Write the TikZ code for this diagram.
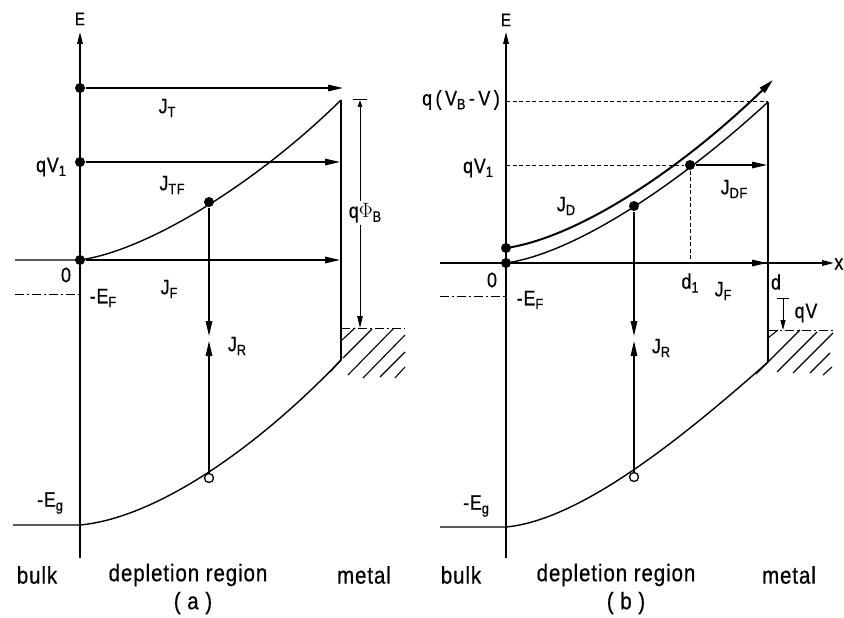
\documentclass[tikz,border=0pt]{standalone}
\usepackage{fontspec}
\setmainfont{Liberation Sans}[FakeStretch=0.85,LetterSpace=4,FakeBold=0.6]
\usetikzlibrary{arrows.meta}
\newcommand\sbs[1]{\raisebox{-0.35ex}{\fontsize{15}{15}\selectfont #1}}
\begin{document}
\begin{tikzpicture}[x=1pt,y=-1pt,line width=1.4pt,
  arr/.style={-{Triangle[length=15pt,width=6.5pt]}},
  axarr/.style={-{Triangle[length=12pt,width=5.5pt]}},
  dot/.style={circle,fill=black,inner sep=0pt,minimum size=10pt},
  hole/.style={circle,draw,fill=white,inner sep=0pt,minimum size=9pt,line width=1.3pt},
  lbl/.style={font=\fontsize{21}{24}\selectfont,inner sep=0pt},
  small/.style={font=\fontsize{18}{20}\selectfont,inner sep=0pt},
  big/.style={font=\fontsize{24}{28}\selectfont,inner sep=0pt},
  dd/.style={dash pattern=on 9pt off 3pt on 2pt off 3pt,line width=1pt},
  dsh/.style={dash pattern=on 4pt off 2.5pt,line width=0.9pt},
  hatch/.style={line width=1.1pt},
  dim/.style={line width=1pt}]
\useasboundingbox (0,0) rectangle (844,618);

% ================= panel (a) =================
\coordinate (aAxB) at (80,558);
\coordinate (aAxT) at (80,32);
\draw[axarr] (aAxB) -- (aAxT);
\node[small] (aE) at (80,19) {E};

% conduction band
\coordinate (aCL) at (15,260);
\coordinate (aC0) at (80,260);
\coordinate (aCM) at (341,100);
\draw (aCL) -- (aC0) .. controls (150,250) and (260,180) .. (aCM);
% valence band
\coordinate (aVL) at (13,525);
\coordinate (aV0) at (80,525);
\coordinate (aVM) at (341,360);
\draw (aVL) -- (aV0) .. controls (155,518) and (255,450) .. (aVM);
% metal boundary
\draw (aCM) -- (aVM);

% Fermi levels
\coordinate (aFL) at (15,294);
\coordinate (aFR) at (80,294);
\draw[dd] (aFL) -- (aFR);
\coordinate (aFmL) at (341,328);
\coordinate (aFmR) at (405,328);
\draw[dd] (aFmL) -- (aFmR);

% hatching (a)
\draw[hatch] (355,328) -- (342,340);
\draw[hatch] (372,329) -- (343,358);
\draw[hatch] (393,329) -- (348,375);
\draw[hatch] (405,335) -- (363,378);
\draw[hatch] (405,352) -- (380,377);
\draw[hatch] (405,367) -- (395,378);
\draw (aVM) -- (330,372);

% horizontal current arrows
\node[dot] (aT0) at (80,88) {};
\coordinate (aT1) at (343,88);
\draw[arr] (aT0) -- (aT1);
\node[dot] (aV1) at (80,162) {};
\coordinate (aV1e) at (340,162);
\draw[arr] (aV1) -- (aV1e);
\node[dot] (aF0) at (80,260) {};
\coordinate (aF1) at (340,260);
\draw[arr] (aF0) -- (aF1);

% recombination
\node[dot] (aR1) at (209,202) {};
\node[hole] (aR2) at (209,478) {};
\coordinate (aRm1) at (209,336);
\coordinate (aRm2) at (209,341);
\draw[arr] (aR1) -- (aRm1);
\draw[arr] (aR2) -- (aRm2);

% q Phi_B dimension
\coordinate (aPhT) at (360,100);
\coordinate (aPhB) at (360,328);
\draw[dim,{Triangle[length=7pt,width=4.5pt]}-{Triangle[length=12pt,width=5.5pt]}] (aPhT) -- (aPhB);
\draw[dim] (353,100) -- (367,100);
\node[lbl,fill=white,inner ysep=3pt] (aPhi) at (365,213) {q$\Phi$\sbs{B}};

% labels (a)
\node[lbl] (aJT) at (167,108) {J\sbs{T}};
\node[lbl] (aqV) at (51,167) {qV\sbs{1}};
\node[lbl] (aJTF) at (172,185) {J\sbs{TF}};
\node[lbl] (a0) at (66,275) {0};
\node[lbl] (aEF) at (103,298) {-E\sbs{F}};
\node[lbl] (aJF) at (169,289) {J\sbs{F}};
\node[lbl] (aJR) at (237,346) {J\sbs{R}};
\node[lbl] (aEg) at (50,503) {-E\sbs{g}};
\node[big] (abulk) at (37,575) {bulk};
\node[big] (adep) at (188,575) {depletion region};
\node[big] (ametal) at (364,575) {metal};
\node[big] (acap) at (193,603) {( a )};

% ================= panel (b) =================
\coordinate (bAxB) at (506,558);
\coordinate (bAxT) at (506,32);
\draw[axarr] (bAxB) -- (bAxT);
\node[small] (bE) at (506,20) {E};
\coordinate (bXL) at (440,263);
\coordinate (bXR) at (834,263);
\draw[axarr] (bXL) -- (bXR);
\node[lbl,anchor=east] (bx) at (844,264) {x};

% inner band
\coordinate (bC0) at (506,263);
\coordinate (bCM) at (768,102);
\draw (bC0) .. controls (576,253) and (680,183) .. (bCM);
% J_D curve
\coordinate (bD0) at (506,248);
\coordinate (bD1) at (773,80);
\draw[line width=2pt,-{Triangle[length=15pt,width=7pt]}] (bD0) .. controls (576,238) and (678,172) .. (bD1);
% valence band
\coordinate (bVL) at (440,527);
\coordinate (bV0) at (506,527);
\coordinate (bVM) at (768,362);
\draw (bVL) -- (bV0) .. controls (580,520) and (680,440) .. (bVM);
\draw (bCM) -- (bVM);

% dashed levels
\coordinate (bQa) at (506,101);
\coordinate (bQb) at (768,101);
\draw[dsh] (bQa) -- (bQb);
\coordinate (bV1a) at (506,165);
\node[dot] (bd1dot) at (690,165) {};
\draw[dsh] (bV1a) -- (bd1dot);
\coordinate (bd1x) at (690,263);
\draw[dsh] (bd1dot) -- (bd1x);
\coordinate (bDF) at (767,165);
\draw[arr] (bd1dot) -- (bDF);

% Fermi levels
\coordinate (bFL) at (440,296);
\coordinate (bFR) at (506,296);
\draw[dd] (bFL) -- (bFR);
\coordinate (bFmL) at (768,330);
\coordinate (bFmR) at (833,330);
\draw[dd] (bFmL) -- (bFmR);

% hatching (b)
\draw[hatch] (778,330) -- (768,338);
\draw[hatch] (800,330) -- (768,362);
\draw[hatch] (817,332) -- (777,372);
\draw[hatch] (833,333) -- (793,373);
\draw[hatch] (830,353) -- (810,373);
\draw[hatch] (832,367) -- (823,375);
\draw (bVM) -- (756,374);

% dots and J_F
\node[dot] (bDd) at (506,248) {};
\node[dot] (bF0) at (506,263) {};
\coordinate (bF1) at (767,263);
\draw[arr] (bF0) -- (bF1);

% recombination (b)
\node[dot] (bR1) at (634,206) {};
\node[hole] (bR2) at (634,477) {};
\coordinate (bRm1) at (634,336);
\coordinate (bRm2) at (634,341);
\draw[arr] (bR1) -- (bRm1);
\draw[arr] (bR2) -- (bRm2);

% qV dimension
\coordinate (bqT) at (783,298);
\coordinate (bqB) at (783,330);
\draw[dim,-{Triangle[length=10pt,width=5pt]}] (bqT) -- (bqB);
\draw[dim] (777,298) -- (789,298);

% labels (b)
\node[lbl] (bQ) at (461,100) {q\,(\,V\sbs{B}\,-\,V\,)};
\node[lbl] (bqV1) at (478,168) {qV\sbs{1}};
\node[lbl] (bJD) at (566,206) {J\sbs{D}};
\node[lbl] (bJDF) at (734,189) {J\sbs{DF}};
\node[lbl] (b0) at (492,280) {0};
\node[lbl] (bd1) at (690,283) {d\sbs{1}};
\node[lbl] (bJF) at (723,291) {J\sbs{F}};
\node[lbl] (bd) at (776,282) {d};
\node[lbl] (bEF) at (530,300) {-E\sbs{F}};
\node[lbl] (bqV) at (806,313) {qV};
\node[lbl] (bJR) at (661,348) {J\sbs{R}};
\node[lbl] (bEg) at (476,506) {-E\sbs{g}};
\node[big] (bbulk) at (461,575) {bulk};
\node[big] (bdep) at (616,575) {depletion region};
\node[big] (bmetal) at (789,575) {metal};
\node[big] (bcap) at (626,603) {( b )};
\end{tikzpicture}
\end{document}
